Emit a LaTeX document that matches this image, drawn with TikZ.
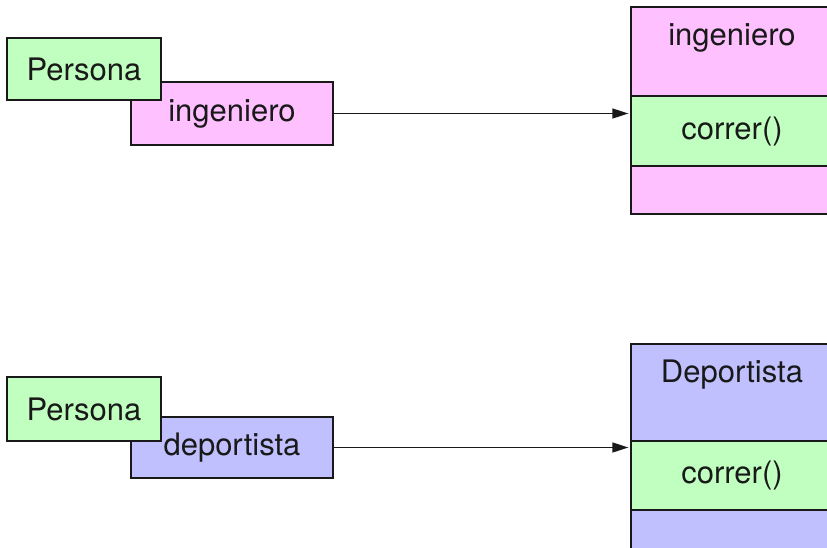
\documentclass[tikz,border=0pt]{standalone}
\usepackage{fontspec}
\setmainfont{TeX Gyre Heros}
\usetikzlibrary{positioning, arrows.meta}
\definecolor{lightgreen}{RGB}{192,255,192}
\definecolor{lightpink}{RGB}{255,192,255}
\definecolor{lightviolet}{RGB}{192,192,255}

\begin{document}
\begin{tikzpicture}[x=1pt,y=-1pt,
  objbox/.style={draw=black!90, line width=1.3pt, inner sep=0pt, text=black!90,
                 font=\fontsize{31}{36}\selectfont},
  part/.style={draw=black!90, line width=1.3pt, inner sep=0pt, minimum width=202pt},
  title/.style={anchor=base, text=black!90, font=\fontsize{31}{36}\selectfont},
  arr/.style={-{Triangle[length=16pt,width=10pt]}, line width=1.3pt, color=black!90}]

  \useasboundingbox (0,0) rectangle (827,548);
  \clip (0,0) rectangle (827,548);

  %% Ingeniero object
  \node[objbox, fill=lightpink, minimum width=202pt, minimum height=63pt] (ing) at (232,113.5) {ingeniero};
  \node[objbox, fill=lightgreen, minimum width=154pt, minimum height=62pt] (per1) at (84,69) {Persona};

  %% Ingeniero class
  \node[part, fill=lightpink, minimum height=89pt] (c1) at (732,51.5) {};
  \node[part, fill=lightgreen, minimum height=70pt, font=\fontsize{31}{36}\selectfont, text=black!90] (m1) at (732,131) {correr()};
  \node[part, fill=lightpink, minimum height=48pt] (b1) at (732,190) {};
  \node[title] (t1) at ([yshift=-39pt]c1.north) {ingeniero};

  %% Deportista object
  \node[objbox, fill=lightviolet, minimum width=202pt, minimum height=61pt] (dep) at (232,447.5) {deportista};
  \node[objbox, fill=lightgreen, minimum width=154pt, minimum height=64pt] (per2) at (84,409) {Persona};

  %% Deportista class
  \node[part, fill=lightviolet, minimum height=97pt] (c2) at (732,392.5) {};
  \node[part, fill=lightgreen, minimum height=69pt, font=\fontsize{31}{36}\selectfont, text=black!90] (m2) at (732,475.5) {correr()};
  \node[part, fill=lightviolet, minimum height=50pt] (b2) at (732,535) {};
  \node[title] (t2) at ([yshift=-39pt]c2.north) {Deportista};

  %% Arrows
  \draw[arr, shorten >=2pt] (ing.east) -- (ing.east -| m1.west);
  \draw[arr, shorten >=2pt] (dep.east) -- (dep.east -| m2.west);
\end{tikzpicture}
\end{document}
